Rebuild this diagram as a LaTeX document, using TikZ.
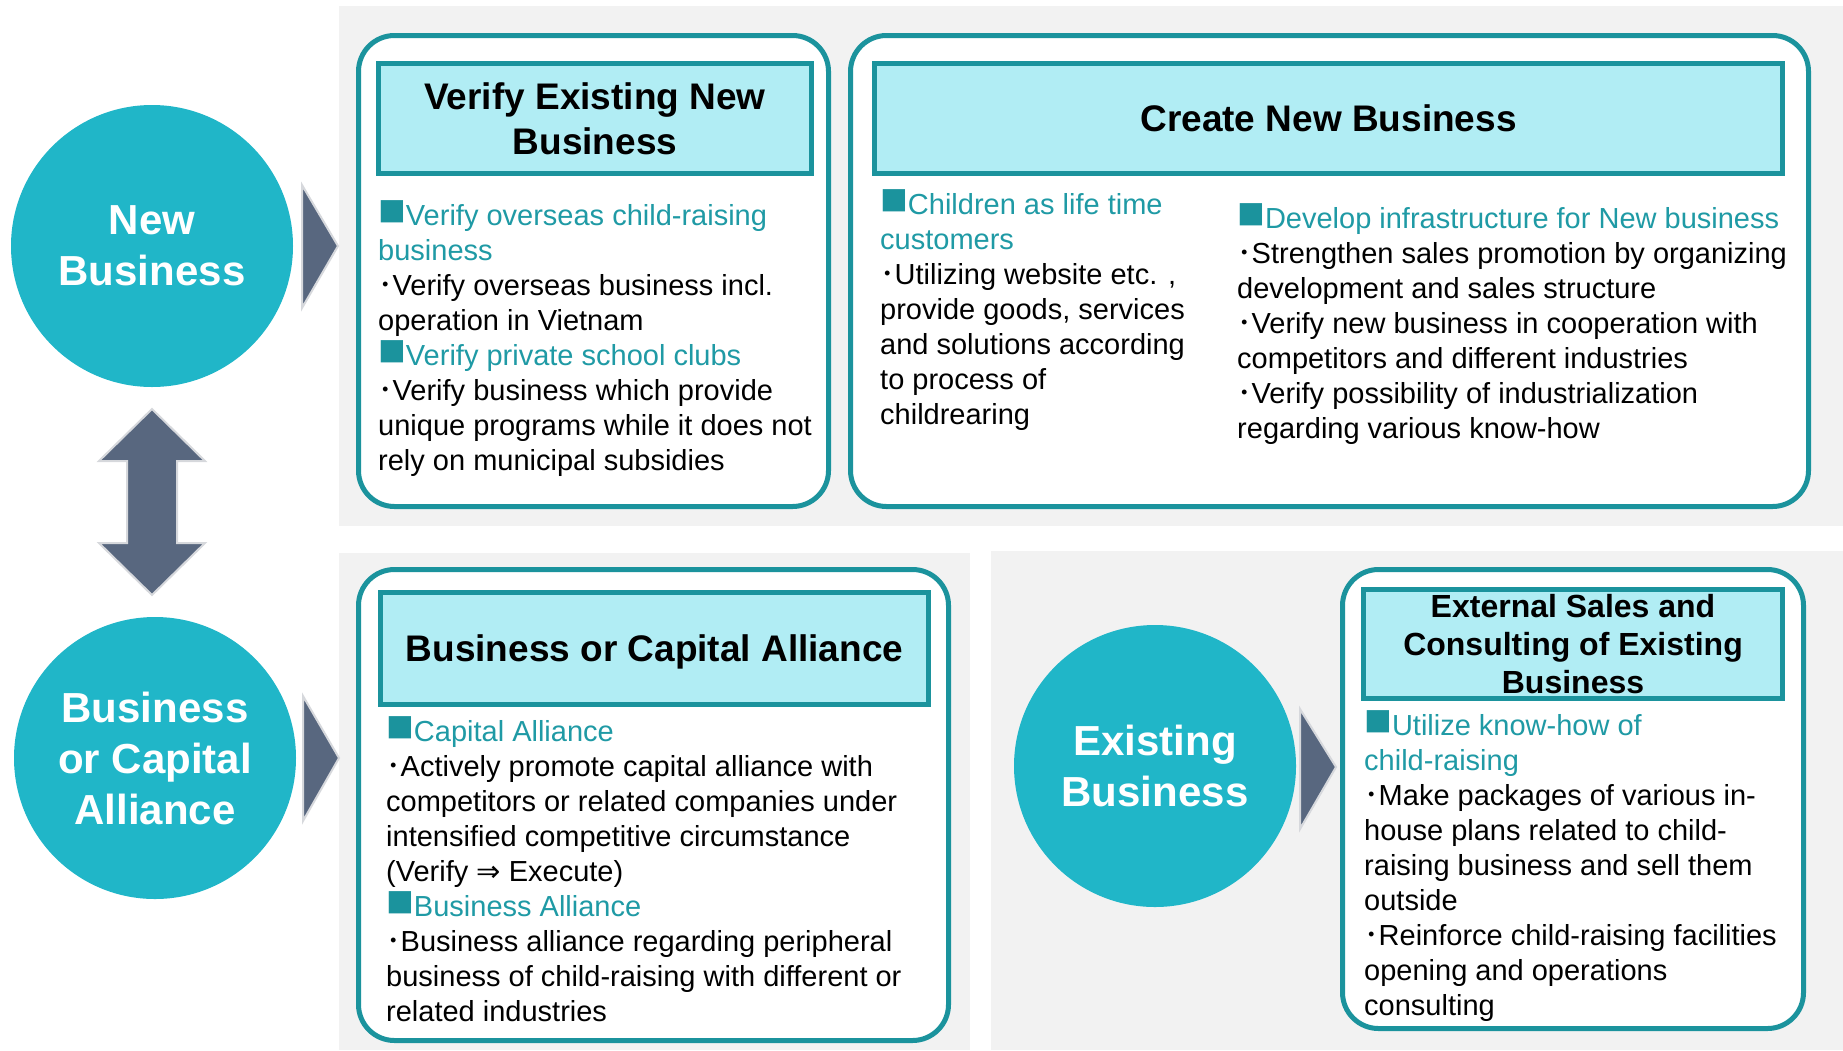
\documentclass[tikz,border=0pt]{standalone}
\usepackage{fontspec}
\setmainfont{Liberation Sans}
\newfontfamily\cjk{Noto Sans CJK JP}
\newfontfamily\dejavu{DejaVu Sans}
\usepackage{xcolor}
\usepackage{tikz}

\definecolor{tealline}{HTML}{1B939D}
\definecolor{circfill}{HTML}{20B6C8}
\definecolor{headfill}{HTML}{B1EDF4}
\definecolor{headtext}{HTML}{1F9AA5}
\definecolor{arrowfill}{HTML}{58677F}
\definecolor{arrowedge}{HTML}{D6D8DC}
\definecolor{panelgray}{HTML}{F2F2F2}

\newcommand\mdot{{\cjk ･}}
\newcommand\hd[1]{\strut{\color{tealline}\fontsize{46}{35}\selectfont■}{\color{headtext}#1}}
\newcommand\tc[1]{{\color{headtext}#1}}

\begin{document}
\begin{tikzpicture}[x=1pt,y=-1pt,
  panel/.style={fill=panelgray},
  outerbox/.style={draw=tealline,line width=5pt,fill=white,rounded corners=36pt},
  headbox/.style={draw=tealline,line width=5pt,fill=headfill,align=center,
    font=\fontsize{37}{45}\selectfont\bfseries},
  bodytext/.style={font=\fontsize{29}{35}\selectfont,align=left,anchor=north west,inner sep=0pt},
  bigcirc/.style={circle,fill=circfill,minimum size=282pt,inner sep=0pt,text=white,
    font=\fontsize{42}{51}\selectfont\bfseries,align=center},
  chevron/.style={fill=arrowfill,draw=arrowedge,line width=2pt}]
\useasboundingbox (0,0) rectangle (1843,1050);

\fill[panel] (339,6) rectangle (1843,526);
\fill[panel] (339,553) rectangle (970,1050);
\fill[panel] (991,551) rectangle (1843,1050);

\node[bigcirc] (newbiz) at (152,246) {New\\Business};
\node[bigcirc] (alliance) at (155,758) {Business\\or Capital\\Alliance};
\node[bigcirc] (existing) at (1155,766) {Existing\\Business};

\filldraw[chevron] (302,185) -- (338,246) -- (302,308) -- cycle;
\filldraw[chevron] (303,696) -- (339,758) -- (303,821) -- cycle;
\filldraw[chevron] (1300,709) -- (1336,767) -- (1300,829) -- cycle;
\filldraw[chevron] (152,409) -- (205,461) -- (177,461) -- (177,543) -- (205,543)
  -- (152,595) -- (99,543) -- (127,543) -- (127,461) -- (99,461) -- cycle;

\node[outerbox,minimum width=470pt,minimum height=471pt] (verifybox) at (593.5,271) {};
\node[outerbox,minimum width=958pt,minimum height=471pt] (createbox) at (1329.5,271) {};
\node[outerbox,minimum width=590pt,minimum height=471pt] (alliancebox) at (653.5,805) {};
\node[outerbox,minimum width=461pt,minimum height=459pt] (salesbox) at (1573,799) {};

\node[headbox,minimum width=433pt,minimum height=110pt] (verifyhead) at (595,118.5)
  {Verify Existing New\\Business};
\node[headbox,minimum width=908pt,minimum height=110pt,text depth=0pt] (createhead) at (1328.5,118.5)
  {Create New Business};
\node[headbox,minimum width=548pt,minimum height=112pt,text depth=0pt] (alliancehead) at (654.5,648.5)
  {Business or Capital Alliance};
\node[headbox,minimum width=419pt,minimum height=109pt,
  font=\fontsize{32}{38}\selectfont\bfseries] (saleshead) at (1573,644)
  {External Sales and\\Consulting of Existing\\Business};

\node[bodytext] (verifytext) at (378,200.5)
  {\hd{Verify overseas child-raising}\\
   \tc{business}\\
   \mdot Verify overseas business incl.\\
   operation in Vietnam\\
   \hd{Verify private school clubs}\\
   \mdot Verify business  which provide\\
   unique programs while it does not\\
   rely on municipal subsidies};
\node[bodytext] (childtext) at (880,189.5)
  {\hd{Children as life time}\\
   \tc{customers}\\
   \mdot Utilizing website etc. ,\\
   provide goods, services\\
   and solutions according\\
   to process of\\
   childrearing};
\node[bodytext] (infratext) at (1237,203.5)
  {\hd{Develop infrastructure for New business}\\
   \mdot Strengthen sales promotion by organizing\\
   development and sales structure\\
   \mdot Verify new business in cooperation with\\
   competitors and different industries\\
   \mdot Verify possibility of industrialization\\
   regarding various know-how};
\node[bodytext] (alliancetext) at (386,716.5)
  {\hd{Capital Alliance}\\
   \mdot Actively promote capital alliance with\\
   competitors or related companies under\\
   intensified competitive circumstance\\
   (Verify {\dejavu ⇒} Execute)\\
   \hd{Business Alliance}\\
   \mdot Business alliance regarding peripheral\\
   business of child-raising with different or\\
   related industries};
\node[bodytext] (salestext) at (1364,710.5)
  {\hd{Utilize know-how of}\\
   \tc{child-raising}\\
   \mdot Make packages of various in-\\
   house plans related to child-\\
   raising business and sell them\\
   outside\\
   \mdot Reinforce child-raising facilities\\
   opening and operations\\
   consulting};
\end{tikzpicture}
\end{document}
